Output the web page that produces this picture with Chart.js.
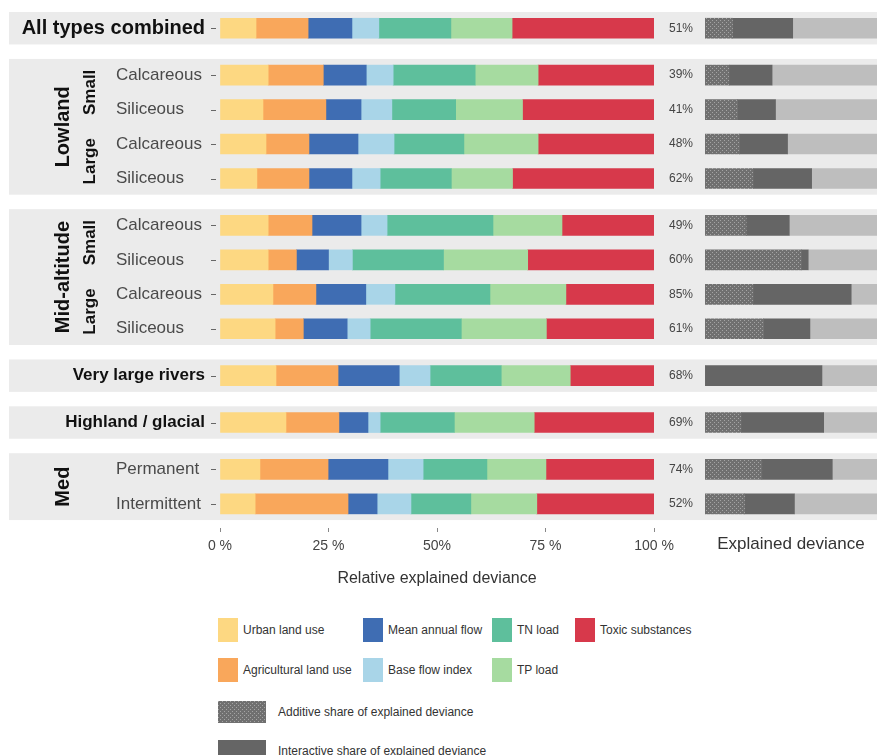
<!DOCTYPE html>
<html>
<head>
<meta charset="utf-8">
<script src="https://cdn.jsdelivr.net/npm/chart.js@4.4.0/dist/chart.umd.min.js"></script>
<style>
  body { margin: 0; background: #fff; font-family: "Liberation Sans", Arial, sans-serif; }
  #wrap { position: relative; width: 877px; height: 755px; overflow: hidden; }
  #main { position: absolute; left: 0; top: 0; }
  #dev { position: absolute; left: 700px; top: 0; }
  #legend { position: absolute; left: 218px; top: 618px; display: grid;
    grid-template-columns: 145px 129px 83px 160px; grid-template-rows: 24px 24px;
    row-gap: 16px; grid-auto-flow: column; font-size: 12px; color: #333; }
  #legend .item, #legend2 .item { display: flex; align-items: center; }
  #legend .sw { width: 20px; height: 24px; margin-right: 5px; }
  #legend2 { position: absolute; left: 218px; top: 701px; font-size: 12px; color: #333; }
  #legend2 .item { height: 22px; margin-bottom: 17px; }
  #legend2 .sw { width: 48px; height: 22px; margin-right: 12px; }
</style>
</head>
<body>
<div id="wrap">
  <canvas id="main" width="700" height="600"></canvas>
  <canvas id="dev" width="177" height="600"></canvas>
  <div id="legend"></div>
  <div id="legend2"></div>
</div>
<script>
// rows, top to bottom
const rowLabels = ["All types combined", "Calcareous", "Siliceous", "Calcareous", "Siliceous",
  "Calcareous", "Siliceous", "Calcareous", "Siliceous",
  "Very large rivers", "Highland / glacial", "Permanent", "Intermittent"];
const rowGroup = [0, 1, 1, 1, 1, 2, 2, 2, 2, 3, 4, 5, 5];
const groupLabels = ["", "Lowland", "Mid-altitude", "", "", "Med"];
const sizeLabels = ["", "Small", "Small", "Large", "Large", "Small", "Small", "Large", "Large", "", "", "", ""];

// relative explained deviance (%)
const driverNames = ["Urban land use", "Agricultural land use", "Mean annual flow", "Base flow index",
  "TN load", "TP load", "Toxic substances"];
const driverColors = ["#fdd882", "#f9a75b", "#3f6db3", "#a9d5e8", "#5ebf9c", "#a6dba0", "#d7394b"];
const urban = [8.3, 11.1, 9.9, 10.6, 8.5, 11.1, 11.1, 12.2, 12.7, 12.9, 15.2, 9.2, 8.1];
const agri = [12.0, 12.7, 14.5, 9.9, 12.0, 10.1, 6.5, 9.9, 6.5, 14.3, 12.2, 15.7, 21.4];
const flow = [10.1, 9.9, 8.1, 11.3, 9.9, 11.3, 7.4, 11.5, 10.1, 14.1, 6.7, 13.8, 6.7];
const bfi = [6.2, 6.2, 7.1, 8.3, 6.5, 6.0, 5.5, 6.7, 5.3, 7.1, 2.8, 8.1, 7.8];
const tn = [16.6, 18.9, 14.7, 16.1, 16.4, 24.4, 21.0, 21.9, 21.0, 16.4, 17.1, 14.7, 13.8];
const tp = [14.1, 14.5, 15.4, 17.1, 14.1, 15.9, 19.4, 17.5, 19.6, 15.9, 18.4, 13.6, 15.2];
const toxic = [32.7, 26.7, 30.3, 26.7, 32.7, 21.2, 29.1, 20.3, 24.8, 19.3, 27.6, 24.9, 27.0];
const series = [urban, agri, flow, bfi, tn, tp, toxic];

// explained deviance (%)
const explained = [51, 39, 41, 48, 62, 49, 60, 85, 61, 68, 69, 74, 52];
const additive = [16, 14, 19, 20, 28, 24, 56, 28, 34, 0, 21, 33, 23];
const interactive = [35, 25, 22, 28, 34, 25, 4, 57, 27, 68, 48, 41, 29];

const xTicks = [0, 25, 50, 75, 100];
const xTickLabels = ["0 %", "25 %", "50%", "75 %", "100 %"];

const FONT = '"Liberation Sans", Arial, sans-serif';
const PANEL_BG = "#ebebeb";
const GAP = 0.36;   // space between panels, in rows
const PAD = 0.47;   // panel background half-height, in rows
const rowPos = rowGroup.map((g, i) => i + g * GAP);
const yMax = rowPos[rowPos.length - 1] + 0.7;

function groupRows(g) {
  return rowPos.filter((p, i) => rowGroup[i] === g);
}

function panelBackground(x0) {
  return {
    id: "panelBg",
    beforeDatasetsDraw(chart) {
      const { ctx, scales: { y } } = chart;
      ctx.save();
      ctx.fillStyle = PANEL_BG;
      groupLabels.forEach((_, g) => {
        const rows = groupRows(g);
        const top = y.getPixelForValue(rows[0] - PAD);
        const bottom = y.getPixelForValue(rows[rows.length - 1] + PAD);
        ctx.fillRect(x0, top, chart.width - x0, bottom - top);
      });
      ctx.restore();
    }
  };
}

// row labels, strip labels, ticks and percent values
const labelsPlugin = {
  id: "rowLabels",
  afterDraw(chart) {
    const { ctx, chartArea, scales: { y } } = chart;
    ctx.save();
    ctx.textBaseline = "middle";
    rowPos.forEach((p, i) => {
      const py = y.getPixelForValue(p);
      const single = groupLabels[rowGroup[i]] === "";
      if (single) {
        ctx.font = `bold ${i === 0 ? 20 : 17}px ${FONT}`;
        ctx.fillStyle = "#111";
        ctx.textAlign = "right";
        ctx.fillText(rowLabels[i], 205, py);
      } else {
        ctx.font = `17px ${FONT}`;
        ctx.fillStyle = "#4a4a4a";
        ctx.textAlign = "left";
        ctx.fillText(rowLabels[i], 116, py);
      }
      ctx.strokeStyle = "#666";
      ctx.lineWidth = 1;
      ctx.beginPath();
      ctx.moveTo(211, Math.round(py) + 0.5);
      ctx.lineTo(216, Math.round(py) + 0.5);
      ctx.stroke();

      ctx.font = `12px ${FONT}`;
      ctx.fillStyle = "#444";
      ctx.textAlign = "left";
      ctx.fillText(explained[i] + "%", chartArea.right + 15, py);
    });

    // vertical strip labels
    const vtext = (txt, x, yc, size) => {
      ctx.save();
      ctx.translate(x, yc);
      ctx.rotate(-Math.PI / 2);
      ctx.font = `bold ${size}px ${FONT}`;
      ctx.fillStyle = "#111";
      ctx.textAlign = "center";
      ctx.fillText(txt, 0, 0);
      ctx.restore();
    };
    groupLabels.forEach((lab, g) => {
      if (!lab) return;
      const rows = groupRows(g);
      const yc = (y.getPixelForValue(rows[0]) + y.getPixelForValue(rows[rows.length - 1])) / 2;
      vtext(lab, 63, yc, 20);
      ["Small", "Large"].forEach(sz => {
        const sub = rowPos.filter((p, i) => rowGroup[i] === g && sizeLabels[i] === sz);
        if (!sub.length) return;
        const ys = (y.getPixelForValue(sub[0]) + y.getPixelForValue(sub[sub.length - 1])) / 2;
        vtext(sz, 90, ys, 17);
      });
    });
    ctx.restore();
  }
};

// hatch tile for the additive share
const tile = document.createElement("canvas");
tile.width = 4; tile.height = 4;
const tg = tile.getContext("2d");
tg.fillStyle = "#707070"; tg.fillRect(0, 0, 4, 4);
tg.fillStyle = "#a4a4a4"; tg.fillRect(0, 0, 1, 1); tg.fillRect(2, 2, 1, 1);

const yScale = {
  type: "linear", min: -0.5, max: yMax, reverse: true, display: false,
  stacked: true, offset: false, bounds: "data"
};

const mainChart = new Chart(document.getElementById("main"), {
  type: "bar",
  data: {
    datasets: driverNames.map((name, k) => ({
      label: name,
      data: series[k].map((v, i) => ({ x: v, y: rowPos[i] })),
      backgroundColor: driverColors[k],
      barThickness: 20
    }))
  },
  options: {
    indexAxis: "y",
    responsive: false,
    animation: false,
    devicePixelRatio: 1,
    layout: { padding: { left: 220, right: 46, top: 11, bottom: 4 } },
    plugins: { legend: { display: false }, tooltip: { enabled: false } },
    scales: {
      y: yScale,
      x: {
        type: "linear", min: 0, max: 100, stacked: true,
        afterBuildTicks: s => { s.ticks = xTicks.map(v => ({ value: v })); },
        afterFit: s => { s.height = 68; },
        border: { display: false },
        grid: { drawOnChartArea: false, drawTicks: true, tickLength: 4, color: "#888" },
        ticks: {
          callback: v => xTickLabels[xTicks.indexOf(v)],
          font: { size: 14, family: FONT }, color: "#444", padding: 6,
          maxRotation: 0, autoSkip: false
        },
        title: {
          display: true, text: "Relative explained deviance",
          font: { size: 16, family: FONT }, color: "#333", padding: { top: 0, bottom: 8 }
        }
      }
    }
  },
  plugins: [panelBackground(9), labelsPlugin]
});

const devCanvas = document.getElementById("dev");
const hatch = devCanvas.getContext("2d").createPattern(tile, "repeat");
const devChart = new Chart(devCanvas, {
  type: "bar",
  data: {
    datasets: [
      { label: "Additive share of explained deviance", data: additive.map((v, i) => ({ x: v, y: rowPos[i] })), backgroundColor: hatch },
      { label: "Interactive share of explained deviance", data: interactive.map((v, i) => ({ x: v, y: rowPos[i] })), backgroundColor: "#656565" },
      { label: "Unexplained", data: explained.map((v, i) => ({ x: 100 - v, y: rowPos[i] })), backgroundColor: "#bebebe" }
    ].map(d => Object.assign(d, { barThickness: 20 }))
  },
  options: {
    indexAxis: "y",
    responsive: false,
    animation: false,
    devicePixelRatio: 1,
    layout: { padding: { left: 5, right: 0, top: 11, bottom: 4 } },
    plugins: { legend: { display: false }, tooltip: { enabled: false } },
    scales: {
      y: yScale,
      x: {
        type: "linear", min: 0, max: 100, stacked: true,
        afterFit: s => { s.height = 68; },
        border: { display: false },
        grid: { display: false },
        ticks: { display: false },
        title: {
          display: true, text: "Explained deviance",
          font: { size: 17, family: FONT }, color: "#333", padding: { top: 0, bottom: 41 }
        }
      }
    }
  },
  plugins: [panelBackground(0)]
});

// legends
const legend = document.getElementById("legend");
driverNames.forEach((name, k) => {
  const it = document.createElement("div");
  it.className = "item";
  it.innerHTML = `<span class="sw" style="background:${driverColors[k]}"></span><span>${name}</span>`;
  legend.appendChild(it);
});
const legend2 = document.getElementById("legend2");
const tileUrl = tile.toDataURL();
devChart.data.datasets.slice(0, 2).forEach((d, k) => {
  const it = document.createElement("div");
  it.className = "item";
  const bg = k === 0 ? `url(${tileUrl})` : d.backgroundColor;
  it.innerHTML = `<span class="sw" style="background:${bg}"></span><span>${d.label}</span>`;
  legend2.appendChild(it);
});
</script>
</body>
</html>
